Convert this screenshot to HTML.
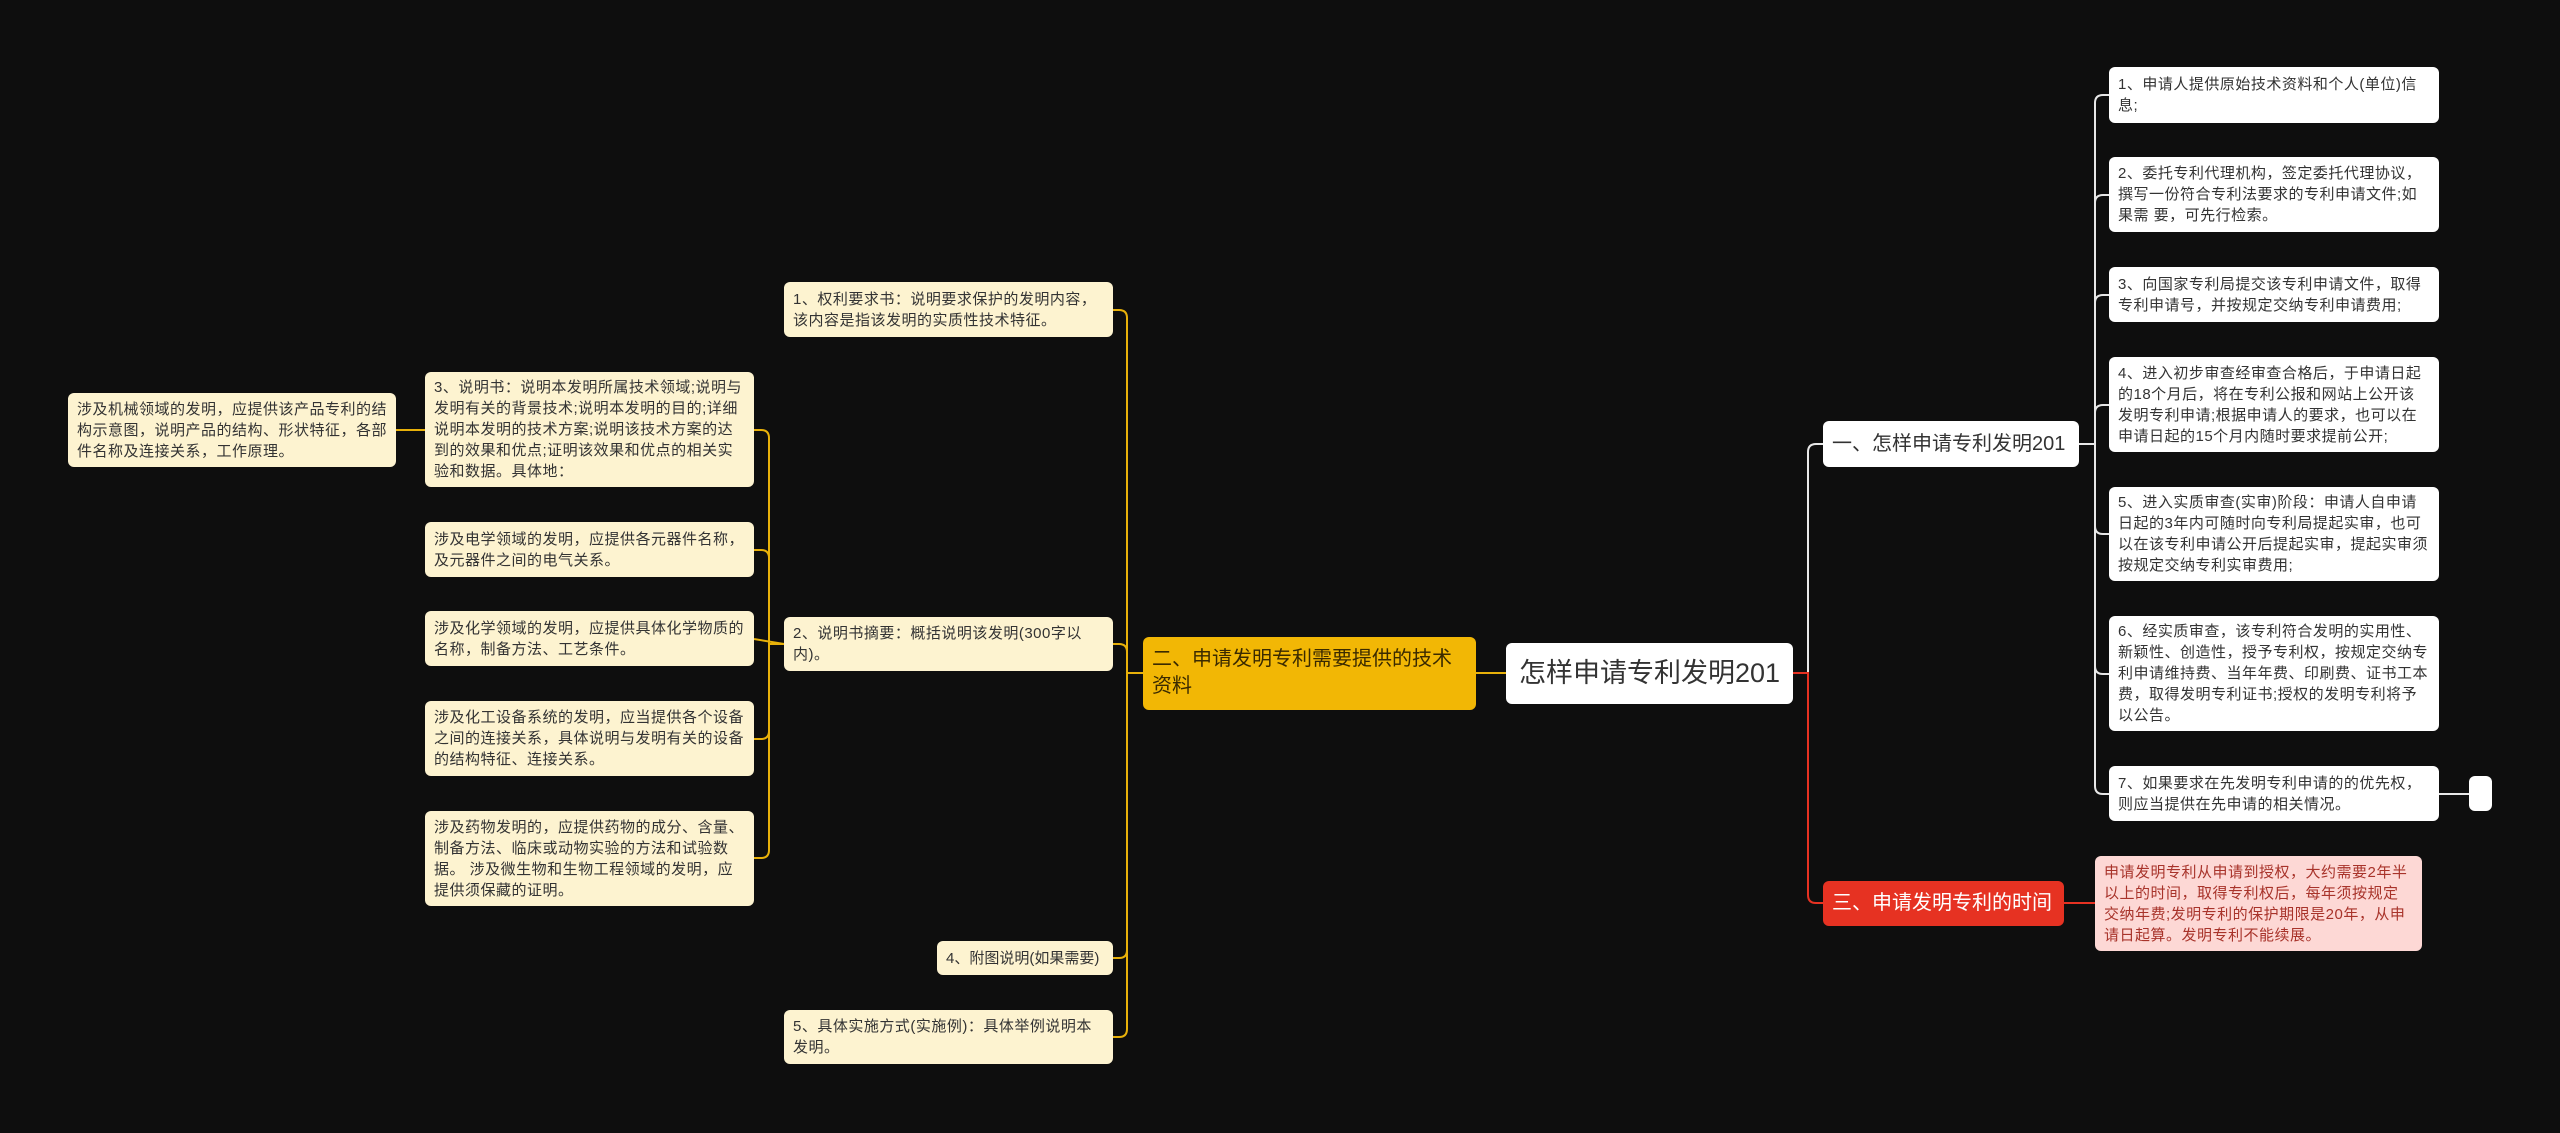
<!DOCTYPE html>
<html><head><meta charset="utf-8"><style>
body{margin:0;background:#0e0e0e;width:2560px;height:1133px;overflow:hidden;position:relative;font-family:"Liberation Sans","Noto Sans CJK SC",sans-serif;}
.n{position:absolute;box-sizing:border-box;border-radius:6px;padding:5px 9px;font-size:15px;letter-spacing:0.5px;line-height:21px;color:#333;display:flex;align-items:center;}
.c{background:#fdf3d0;}
.w{background:#fff;}
.t{white-space:nowrap;letter-spacing:0}
svg{position:absolute;left:0;top:0}
</style></head><body>
<svg id="s" width="2560" height="1133"></svg>
<div class="n w t" style="left:1506px;top:643px;width:287px;height:61px;font-size:27px;padding-left:13px">怎样申请专利发明201</div>
<div class="n" style="left:1143px;top:637px;width:333px;height:73px;background:#f2b705;font-size:20px;line-height:27px;color:#3a2a00;align-items:flex-start;padding-top:9px;letter-spacing:0">二、申请发明专利需要提供的技术资料</div>
<div class="n w t" style="left:1823px;top:421px;width:256px;height:46px;font-size:20px">一、怎样申请专利发明201</div>
<div class="n t" style="left:1823px;top:881px;width:241px;height:45px;font-size:20px;background:#e63222;color:#fff">三、申请发明专利的时间</div>

<div class="n w" style="left:2109px;top:67px;width:330px;height:56px">1、申请人提供原始技术资料和个人(单位)信息;</div>
<div class="n w" style="left:2109px;top:157px;width:330px;height:75px">2、委托专利代理机构，签定委托代理协议，撰写一份符合专利法要求的专利申请文件;如果需 要，可先行检索。</div>
<div class="n w" style="left:2109px;top:267px;width:330px;height:55px">3、向国家专利局提交该专利申请文件，取得专利申请号，并按规定交纳专利申请费用;</div>
<div class="n w" style="left:2109px;top:357px;width:330px;height:95px">4、进入初步审查经审查合格后，于申请日起的18个月后，将在专利公报和网站上公开该发明专利申请;根据申请人的要求，也可以在申请日起的15个月内随时要求提前公开;</div>
<div class="n w" style="left:2109px;top:487px;width:330px;height:94px">5、进入实质审查(实审)阶段：申请人自申请日起的3年内可随时向专利局提起实审，也可以在该专利申请公开后提起实审，提起实审须按规定交纳专利实审费用;</div>
<div class="n w" style="left:2109px;top:616px;width:330px;height:115px">6、经实质审查，该专利符合发明的实用性、新颖性、创造性，授予专利权，按规定交纳专利申请维持费、当年年费、印刷费、证书工本费，取得发明专利证书;授权的发明专利将予以公告。</div>
<div class="n w" style="left:2109px;top:766px;width:330px;height:55px">7、如果要求在先发明专利申请的的优先权，则应当提供在先申请的相关情况。</div>
<div class="n w" style="left:2469px;top:776px;width:23px;height:35px;padding:0"></div>
<div class="n" style="left:2095px;top:856px;width:327px;height:95px;background:#fdd8d5;color:#a8332a">申请发明专利从申请到授权，大约需要2年半以上的时间，取得专利权后，每年须按规定交纳年费;发明专利的保护期限是20年，从申请日起算。发明专利不能续展。</div>

<div class="n c" style="left:784px;top:282px;width:329px;height:55px">1、权利要求书：说明要求保护的发明内容，该内容是指该发明的实质性技术特征。</div>
<div class="n c" style="left:784px;top:617px;width:329px;height:54px">2、说明书摘要：概括说明该发明(300字以内)。</div>
<div class="n c" style="left:937px;top:941px;width:176px;height:34px;letter-spacing:0">4、附图说明(如果需要)</div>
<div class="n c" style="left:784px;top:1010px;width:329px;height:54px">5、具体实施方式(实施例)：具体举例说明本发明。</div>
<div class="n c" style="left:425px;top:372px;width:329px;height:115px">3、说明书：说明本发明所属技术领域;说明与发明有关的背景技术;说明本发明的目的;详细说明本发明的技术方案;说明该技术方案的达到的效果和优点;证明该效果和优点的相关实验和数据。具体地：</div>
<div class="n c" style="left:425px;top:522px;width:329px;height:55px">涉及电学领域的发明，应提供各元器件名称，及元器件之间的电气关系。</div>
<div class="n c" style="left:425px;top:611px;width:329px;height:55px">涉及化学领域的发明，应提供具体化学物质的名称，制备方法、工艺条件。</div>
<div class="n c" style="left:425px;top:701px;width:329px;height:75px">涉及化工设备系统的发明，应当提供各个设备之间的连接关系，具体说明与发明有关的设备的结构特征、连接关系。</div>
<div class="n c" style="left:425px;top:811px;width:329px;height:95px">涉及药物发明的，应提供药物的成分、含量、制备方法、临床或动物实验的方法和试验数据。 涉及微生物和生物工程领域的发明，应提供须保藏的证明。</div>
<div class="n c" style="left:68px;top:393px;width:328px;height:74px">涉及机械领域的发明，应提供该产品专利的结构示意图，说明产品的结构、形状特征，各部件名称及连接关系，工作原理。</div>
<script>
var s=document.getElementById('s'),h='';
function L(x1,y1,xt,x2,y2,c){var r=8,d=y2>y1?1:-1,dx=x2>xt?1:-1;var p;
if(Math.abs(y2-y1)<r){p='M'+x1+' '+y1+'L'+x2+' '+y2;}else{
p='M'+x1+' '+y1+'L'+xt+' '+y1+'L'+xt+' '+(y2-d*r)+'Q'+xt+' '+y2+' '+(xt+dx*r)+' '+y2+'L'+x2+' '+y2;}
h+='<path d="'+p+'" fill="none" stroke="'+c+'" stroke-width="2"/>';}
var W='#e8e8e8',R='#e63222',Y='#e8b10a';
L(1793,673,1808,1823,444,W);L(1793,673,1808,1823,903,R);
[95,195,295,405,534,674,794].forEach(function(y){L(2079,444,2095,2109,y,W)});
L(2439,794,2455,2469,794,W);
L(2064,903,2080,2095,903,R);
L(1506,673,1490,1476,673,Y);
[310,644,958,1037].forEach(function(y){L(1143,673,1127,1113,y,Y)});
[430,550,639,739,858].forEach(function(y){L(784,644,769,754,y,Y)});
L(425,430,410,396,430,Y);
s.innerHTML=h;
</script>
</body></html>
